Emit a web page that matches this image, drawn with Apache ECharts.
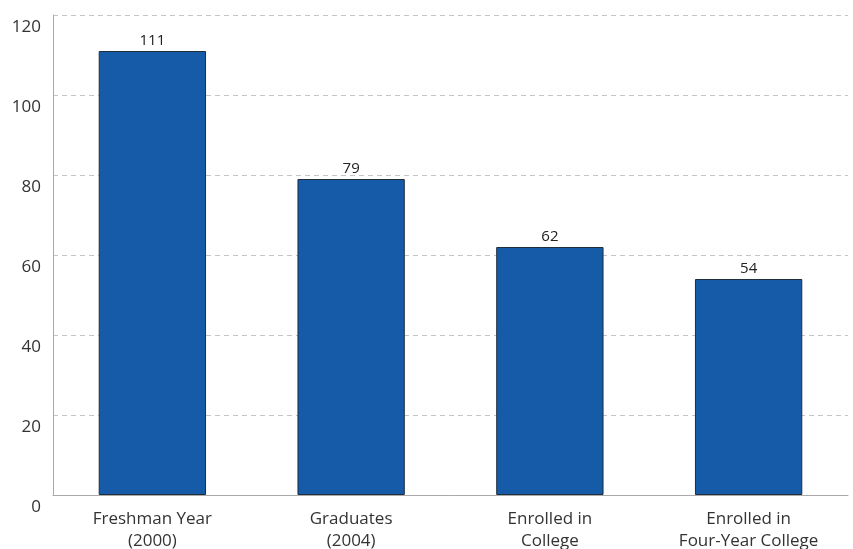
<!DOCTYPE html>
<html><head><meta charset="utf-8">
<script src="https://cdn.jsdelivr.net/npm/echarts@6/dist/echarts.min.js"></script>
<style>html,body{margin:0;padding:0;background:#fff}#c{width:853px;height:549px}</style>
</head><body><div id="c"></div>
<script>
const categories = ["Freshman Year\n(2000)", "Graduates\n(2004)", "Enrolled in\nCollege", "Enrolled in\nFour-Year College"];
const values = [111, 79, 62, 54];
const yTicks = [0, 20, 40, 60, 80, 100, 120];

const chart = echarts.init(document.getElementById('c'), null, {renderer: 'canvas'});
chart.setOption({
  animation: false,
  grid: {left: 53, right: 5, top: 15, bottom: 54, containLabel: false, outerBoundsMode: 'none'},
  xAxis: {
    type: 'category', data: categories,
    axisLine: {show: true, lineStyle: {color: '#aaaaaa', width: 1}},
    axisTick: {show: false},
    axisLabel: {fontFamily: 'Open Sans', fontSize: 17, color: '#333', lineHeight: 22, margin: 13}
  },
  yAxis: {
    type: 'value', min: yTicks[0], max: yTicks[yTicks.length - 1], interval: 20,
    axisLine: {show: true, lineStyle: {color: '#aaaaaa', width: 1}},
    axisTick: {show: false},
    axisLabel: {fontFamily: 'Open Sans', fontSize: 17, color: '#333', margin: 12, verticalAlign: 'top', padding: [4, 0, 0, 0]},
    splitLine: {show: true, lineStyle: {color: '#c4c4c4', type: [5, 4], width: 1}}
  },
  series: [{
    type: 'bar', data: values, barWidth: '54%',
    itemStyle: {color: '#155ba8', borderColor: '#1f2d3d', borderWidth: 1},
    label: {show: true, position: 'top', fontFamily: 'Open Sans', fontSize: 15, color: '#222', distance: 3}
  }]
});
</script></body></html>
